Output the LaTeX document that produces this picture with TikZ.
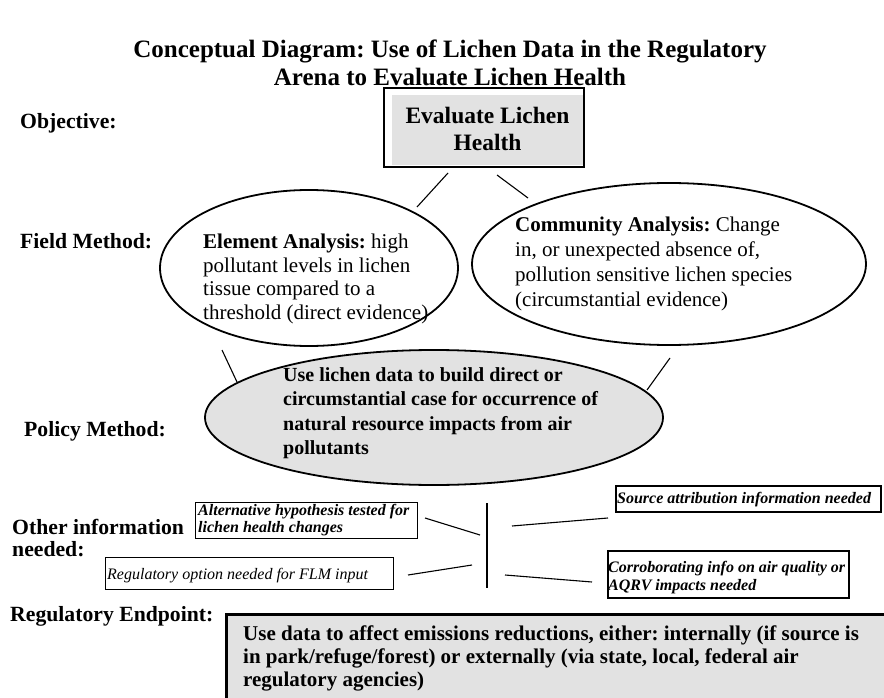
\documentclass[tikz,border=0pt]{standalone}
\usepackage{fontspec}
\setmainfont{Liberation Serif}
\usetikzlibrary{shapes.geometric}
\definecolor{lgrey}{RGB}{226,226,226}
\frenchspacing
\begin{document}
\begin{tikzpicture}[x=1pt,y=-1pt,
  lab/.style={anchor=base west,inner sep=0pt,font=\fontsize{21.7}{24}\selectfont\bfseries},
  txt/.style={anchor=north west,inner sep=0pt,align=left},
  conn/.style={line width=1.1pt},
  ell/.style={draw,ellipse,line width=1.8pt,inner sep=0pt},
  thinbox/.style={draw,line width=1.2pt,inner sep=0pt,anchor=north west},
  thickbox/.style={draw,line width=2pt,inner sep=0pt,anchor=north west}]
\useasboundingbox (0,0) rectangle (884,698);

% title
\node[anchor=north,inner sep=0pt,align=center,font=\fontsize{25}{28}\selectfont\bfseries] (title) at (450,37.9)
  {\strut Conceptual Diagram: Use of Lichen Data in the Regulatory\\Arena to Evaluate Lichen Health};

% row labels
\node[lab] (lobj) at (20,128.5) {Objective:};
\node[lab] (lfield) at (20,248.5) {Field Method:};
\node[lab] (lpolicy) at (24,436.5) {Policy Method:};
\node[lab] (lother) at (12,534.5) {Other information};
\node[lab] (lneeded) at (12,556.5) {needed:};
\node[lab] (lend) at (10,621.5) {Regulatory Endpoint:};

% objective box
\fill[lgrey] (392,95) rectangle (583,165);
\node[thickbox,minimum width=200pt,minimum height=79pt] (objbox) at (383,87) {};
\node[anchor=north,inner sep=0pt,align=center,font=\fontsize{23.5}{27}\selectfont\bfseries] (objtxt) at (487.5,104)
  {\strut Evaluate Lichen\\Health};

% field method ellipses
\node[ell,minimum width=298pt,minimum height=156pt] (elem) at (309,268) {};
\node[txt,font=\fontsize{21}{23.5}\selectfont] (elemtxt) at (203,231.9)
  {\strut\textbf{Element Analysis:} high\\pollutant levels in lichen\\tissue compared to a\\threshold (direct evidence)};
\node[ell,minimum width=394pt,minimum height=162pt] (comm) at (669,264) {};
\node[txt,font=\fontsize{21}{25}\selectfont] (commtxt) at (515,213.8)
  {\strut\textbf{Community Analysis:} Change\\in, or unexpected absence of,\\pollution sensitive lichen species\\(circumstantial evidence)};

% policy ellipse
\node[ell,fill=lgrey,minimum width=458pt,minimum height=135pt] (policy) at (434,417.5) {};
\node[txt,font=\fontsize{20}{24.5}\selectfont\bfseries] (policytxt) at (283,363.9)
  {\strut Use lichen data to build direct or\\circumstantial case for occurrence of\\natural resource impacts from air\\pollutants};

% other information boxes
\node[thinbox,minimum width=222pt,minimum height=36pt] (altbox) at (195,502) {};
\node[txt,font=\fontsize{16}{17}\selectfont\bfseries\itshape] (alttxt) at (198,502.9)
  {\strut Alternative hypothesis tested for\\lichen health changes};
\node[thinbox,minimum width=288pt,minimum height=32pt] (regbox) at (105,557) {};
\node[txt,font=\fontsize{16}{17}\selectfont\itshape] (regtxt) at (107,566.9)
  {\strut Regulatory option needed for FLM input};
\node[thickbox,minimum width=265pt,minimum height=26pt] (srcbox) at (615,485) {};
\node[txt,font=\fontsize{16}{17}\selectfont\bfseries\itshape] (srctxt) at (617,490.9)
  {\strut Source attribution information needed};
\node[thickbox,minimum width=241pt,minimum height=47pt] (corbox) at (607,550) {};
\node[txt,font=\fontsize{16}{18}\selectfont\bfseries\itshape] (cortxt) at (608,559.2)
  {\strut Corroborating info on air quality or\\AQRV impacts needed};

% regulatory endpoint box
\node[draw,fill=lgrey,line width=2.5pt,inner sep=0pt,anchor=north west,minimum width=700pt,minimum height=120pt] (endbox) at (225,613) {};
\node[txt,font=\fontsize{21}{23}\selectfont\bfseries] (endtxt) at (243,624.2)
  {\strut Use data to affect emissions reductions, either: internally (if source is\\in park/refuge/forest) or externally (via state, local, federal air\\regulatory agencies)};

% connector end points
\coordinate (a1) at (448,173); \coordinate (a2) at (417,207);
\coordinate (b1) at (497,175); \coordinate (b2) at (528,198);
\coordinate (c1) at (222,350); \coordinate (c2) at (237,382);
\coordinate (d1) at (670,358); \coordinate (d2) at (647,390);
\coordinate (e1) at (425,518); \coordinate (e2) at (480,535);
\coordinate (f1) at (408,575); \coordinate (f2) at (472,565);
\coordinate (g1) at (487,503); \coordinate (g2) at (487,588);
\coordinate (h1) at (512,526); \coordinate (h2) at (608,518);
\coordinate (i1) at (505,575); \coordinate (i2) at (592,582);

\draw[conn] (a1) -- (a2);
\draw[conn] (b1) -- (b2);
\draw[conn] (c1) -- (c2);
\draw[conn] (d1) -- (d2);
\draw[conn] (e1) -- (e2);
\draw[conn] (f1) -- (f2);
\draw[conn] (g1) -- (g2);
\draw[conn] (h1) -- (h2);
\draw[conn] (i1) -- (i2);
\end{tikzpicture}
\end{document}
